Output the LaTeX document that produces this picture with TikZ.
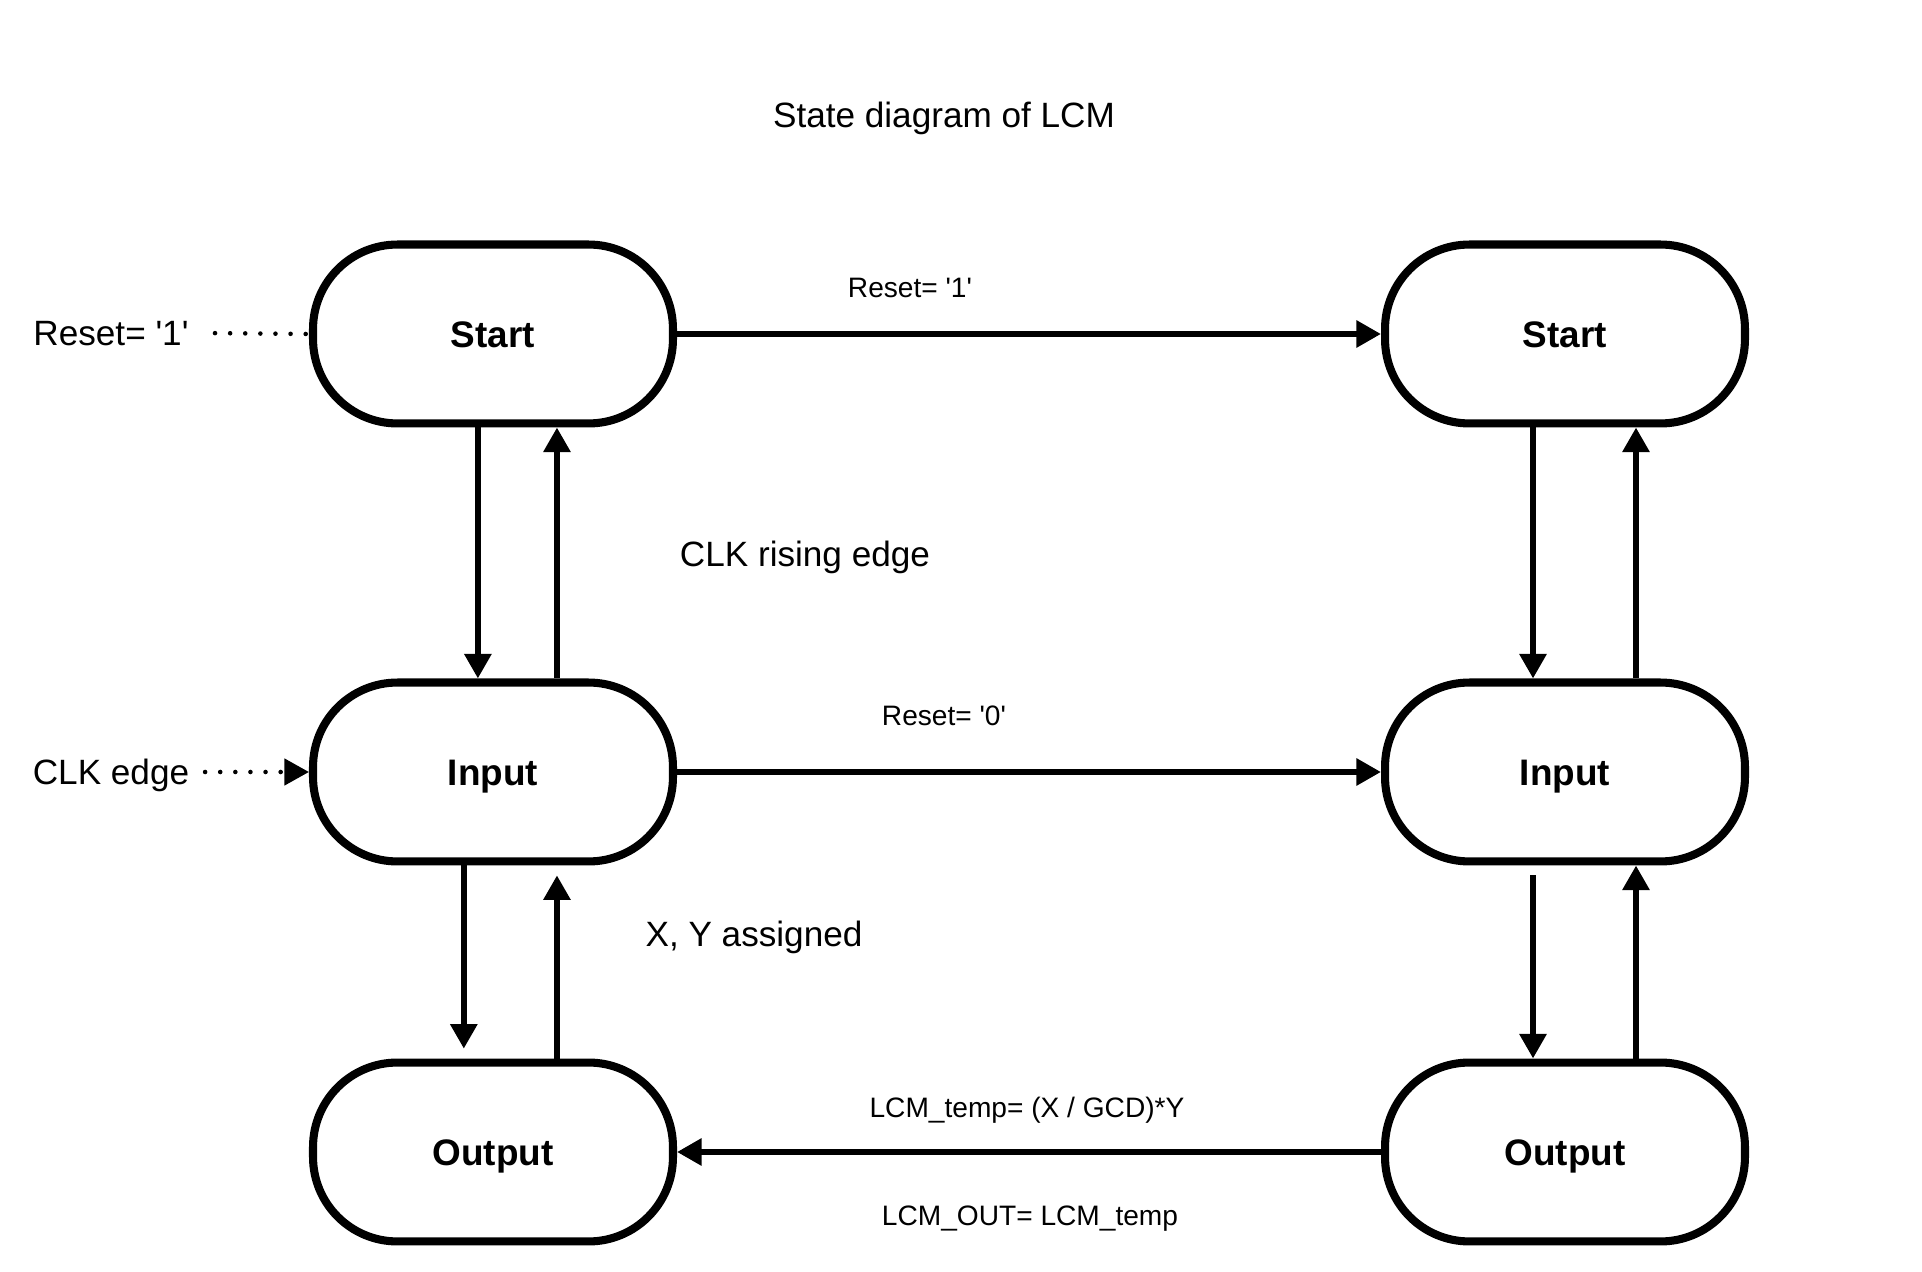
\documentclass[tikz,border=0pt]{standalone}
\usepackage{fontspec}
\setmainfont{Liberation Sans}
\usetikzlibrary{arrows.meta}

\tikzset{
  state/.style={draw, line width=2.3pt, rounded corners=24pt, minimum width=102.4pt, minimum height=50.9pt, text height=7.6pt, text depth=0pt, font=\fontsize{10.5}{12}\selectfont\bfseries},
  flow/.style={->, line width=1.7pt},
  cond/.style={text height=5.8pt, text depth=0pt, font=\fontsize{8}{10}\selectfont},
  note/.style={text height=7.2pt, text depth=0pt, font=\fontsize{10}{12}\selectfont},
  dotline/.style={line width=1.3pt, line cap=round, dash pattern=on 0pt off 4.3pt},
}
\newcommand{\sq}{\textquotesingle}

\begin{document}
\begin{tikzpicture}[>={Triangle[length=7pt,width=7.4pt]}, x=0.2845pt, y=-0.2845pt]
		\useasboundingbox (0,0) rectangle (1922,1272);
		
		\node[note] (title) at (944,115) {State diagram of LCM};
		
		% left column
		\node[state] (startL) at (493,334) {Start};
		\node[state] (inputL) at (493,772) {Input};
		\node[state] (outputL) at (493,1152) {Output};
		
		% right column
		\node[state] (startR) at (1565,334) {Start};
		\node[state] (inputR) at (1565,772) {Input};
		\node[state] (outputR) at (1565,1152) {Output};
		
		\node[note] (resetIn) at (111,333) {Reset= \sq1\sq};
		\node[note] (clkIn) at (111,772) {CLK edge};
		\draw[dotline, shorten <=4pt] (resetIn.east) -- (startL.west);
		\draw[dotline, ->, shorten <=1pt] (clkIn.east) -- (inputL.west);
		
		\draw[flow] (startL.east) -- (startR.west);
		\draw[flow] (inputL.east) -- (inputR.west);
		\draw[flow] (outputR.west) -- (outputL.east);
		
		\node[cond] (resetHi) at (910,287) {Reset= \sq1\sq};
		\node[cond] (resetLo) at (944,715) {Reset= \sq0\sq};
		\node[cond] (lcmTemp) at (1027,1107) {LCM\_temp= (X / GCD)*Y};
		\node[cond] (lcmOut) at (1030,1215) {LCM\_OUT= LCM\_temp};
		
		\draw[flow] ([xshift=-4.3pt]startL.south) -- ([xshift=-4.3pt]inputL.north);
		\draw[flow] ([xshift=18.2pt]inputL.north) -- ([xshift=18.2pt]startL.south);
		\draw[flow, shorten >=2.8pt] ([xshift=-8.3pt]inputL.south) -- ([xshift=-8.3pt]outputL.north);
		\draw[flow, shorten >=2.8pt] ([xshift=18.2pt]outputL.north) -- ([xshift=18.2pt]inputL.south);
		
		\draw[flow] ([xshift=-9.1pt]startR.south) -- ([xshift=-9.1pt]inputR.north);
		\draw[flow] ([xshift=20.2pt]inputR.north) -- ([xshift=20.2pt]startR.south);
		\draw[flow, shorten <=2.8pt] ([xshift=-9.1pt]inputR.south) -- ([xshift=-9.1pt]outputR.north);
		\draw[flow] ([xshift=20.2pt]outputR.north) -- ([xshift=20.2pt]inputR.south);
		
		\node[note] (clkRise) at (805,554) {CLK rising edge};
		\node[note] (xyDone) at (754,934) {X, Y assigned};
	\end{tikzpicture}
\end{document}
